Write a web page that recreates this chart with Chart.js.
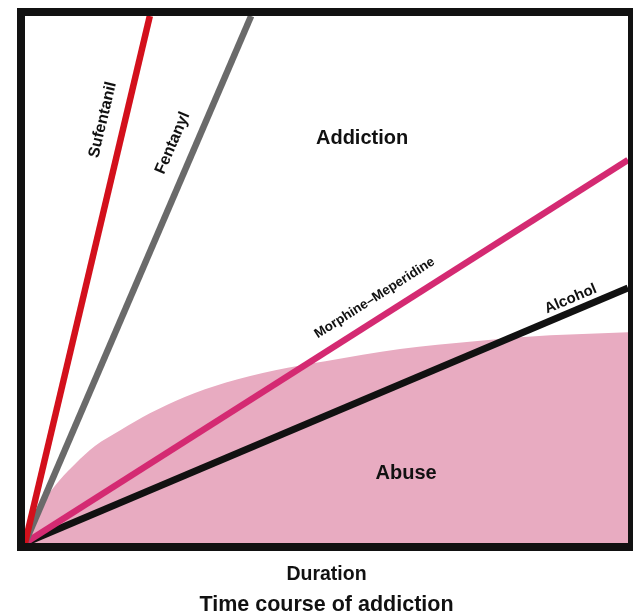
<!DOCTYPE html>
<html>
<head>
<meta charset="utf-8">
<title>Time course of addiction</title>
<script src="https://cdn.jsdelivr.net/npm/chart.js@4.4.1/dist/chart.umd.min.js"></script>
<style>
  body { margin: 0; background: #fff; }
  canvas { display: block; }
</style>
</head>
<body>
<canvas id="chart" width="633" height="614"></canvas>
<script>
// Duration (x) vs. progression (y), both on an arbitrary 0-100 scale
const sufentanilX = [0, 20.7];
const sufentanilY = [0, 100];
const fentanylX = [0, 37.5];
const fentanylY = [0, 100];
const morphineX = [0, 100];
const morphineY = [0, 72.7];
const alcoholX = [0, 100];
const alcoholY = [0, 48.4];

// Upper edge of the "Abuse" zone
const abuseX = [0, 1.7, 3.3, 5.8, 8.3, 11.6, 15.8, 20.7, 26.5, 33.2, 41.5, 49.8, 62.2, 74.6, 87.1, 100];
const abuseY = [0, 4.6, 8.2, 12.0, 15.0, 18.4, 21.4, 24.6, 27.7, 30.4, 32.8, 34.5, 36.8, 38.3, 39.4, 40.0];

const FONT = "'Liberation Sans', Arial, Helvetica, sans-serif";

function toPoints(xs, ys) {
  return xs.map(function (x, i) {
    return { x: x, y: ys[i] };
  });
}

function lineSet(label, xs, ys, color, width) {
  return {
    label: label,
    data: toPoints(xs, ys),
    borderColor: color,
    borderWidth: width,
    pointRadius: 0,
    fill: false,
    order: 0,
  };
}

// Frame and text labels
const labelPlugin = {
  id: "labels",
  afterDatasetsDraw(chart) {
    const ctx = chart.ctx;
    const area = chart.chartArea;
    const xs = chart.scales.x;
    const ys = chart.scales.y;

    ctx.save();
    // thick black frame
    ctx.strokeStyle = "#111";
    ctx.lineWidth = 8;
    ctx.strokeRect(area.left - 4, area.top - 4, area.right - area.left + 8, area.bottom - area.top + 8);

    ctx.fillStyle = "#111";
    ctx.textAlign = "center";
    ctx.textBaseline = "middle";

    // rotated labels along the lines
    const along = [
      { text: "Sufentanil", x: 12.9, y: 80.3, lx: sufentanilX, ly: sufentanilY, size: 16 },
      { text: "Fentanyl", x: 24.5, y: 75.9, lx: fentanylX, ly: fentanylY, size: 16 },
      { text: "Morphine\u2013Meperidine", x: 58.0, y: 46.5, lx: morphineX, ly: morphineY, size: 13.5 },
      { text: "Alcohol", x: 90.5, y: 46.3, lx: alcoholX, ly: alcoholY, size: 15 },
    ];
    along.forEach(function (l) {
      const dx = xs.getPixelForValue(l.lx[1]) - xs.getPixelForValue(l.lx[0]);
      const dy = ys.getPixelForValue(l.ly[1]) - ys.getPixelForValue(l.ly[0]);
      ctx.save();
      ctx.translate(xs.getPixelForValue(l.x), ys.getPixelForValue(l.y));
      ctx.rotate(Math.atan2(dy, dx));
      ctx.font = "bold " + l.size + "px " + FONT;
      ctx.fillText(l.text, 0, 0);
      ctx.restore();
    });

    // zone labels
    ctx.font = "bold 20px " + FONT;
    ctx.fillText("Addiction", xs.getPixelForValue(55.9), ys.getPixelForValue(76.7));
    ctx.fillText("Abuse", xs.getPixelForValue(63.2), ys.getPixelForValue(13.2));

    // axis title and caption
    const cx = (area.left + area.right) / 2;
    ctx.font = "bold 19.5px " + FONT;
    ctx.fillText("Duration", cx, area.bottom + 32);
    ctx.font = "bold 21.5px " + FONT;
    ctx.fillText("Time course of addiction", cx, area.bottom + 62);
    ctx.restore();
  },
};

new Chart(document.getElementById("chart"), {
  type: "line",
  data: {
    datasets: [
      {
        label: "Abuse",
        data: toPoints(abuseX, abuseY),
        borderWidth: 0,
        borderColor: "rgba(0,0,0,0)",
        backgroundColor: "#e8abc1",
        pointRadius: 0,
        fill: "origin",
        cubicInterpolationMode: "monotone",
        order: 10,
      },
      lineSet("Sufentanil", sufentanilX, sufentanilY, "#d3101c", 6.5),
      lineSet("Fentanyl", fentanylX, fentanylY, "#6a6a6a", 6.5),
      lineSet("Morphine–Meperidine", morphineX, morphineY, "#d42a72", 6.5),
      lineSet("Alcohol", alcoholX, alcoholY, "#111111", 7),
    ],
  },
  options: {
    responsive: false,
    animation: false,
    layout: {
      padding: { left: 25, right: 5, top: 16, bottom: 71 },
    },
    plugins: {
      legend: { display: false },
      tooltip: { enabled: false },
    },
    scales: {
      x: { type: "linear", min: 0, max: 100, display: false },
      y: { type: "linear", min: 0, max: 100, display: false },
    },
  },
  plugins: [labelPlugin],
});
</script>
</body>
</html>
